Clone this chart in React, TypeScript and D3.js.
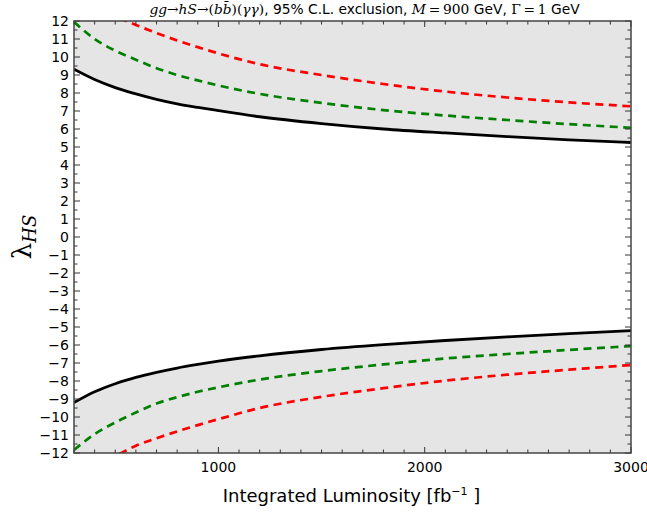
import React from "react";
import * as d3 from "d3";

// Luminosity samples (fb^-1)
const lum = [300, 400, 500, 600, 700, 800, 900, 1000, 1200, 1500, 1800, 2100, 2400, 2700, 3000];
// Upper branch
const blackUp = [9.32, 8.75, 8.3, 7.95, 7.65, 7.4, 7.2, 7.02, 6.68, 6.3, 6.0, 5.78, 5.58, 5.4, 5.25];
const greenUp = [11.95, 11.0, 10.35, 9.85, 9.38, 9.0, 8.7, 8.42, 7.95, 7.45, 7.05, 6.75, 6.5, 6.27, 6.07];
// Lower branch
const blackLo = [-9.2, -8.6, -8.15, -7.8, -7.52, -7.28, -7.08, -6.9, -6.6, -6.25, -5.98, -5.75, -5.55, -5.37, -5.2];
const greenLo = [-11.83, -10.95, -10.3, -9.75, -9.25, -8.9, -8.6, -8.35, -7.92, -7.45, -7.08, -6.75, -6.5, -6.27, -6.06];
// Red curves start where they enter the frame
const lumRed = [520, 600, 700, 800, 900, 1000, 1200, 1500, 1800, 2100, 2400, 2700, 3000];
const redUp = [12.15, 11.78, 11.33, 10.92, 10.55, 10.2, 9.6, 9.0, 8.5, 8.08, 7.75, 7.48, 7.26];
const redLo = [-12.05, -11.6, -11.18, -10.8, -10.45, -10.12, -9.5, -8.88, -8.4, -7.98, -7.65, -7.37, -7.11];

const yTicks = d3.range(-12, 13, 1);
const xTicks = [1000, 2000, 3000];

const W = 647, H = 512;
const L = 74, R = 631, T = 21, B = 453;

export default function App() {
  const x = d3.scaleLinear().domain([300, 3000]).range([L, R]);
  const y = d3.scaleLinear().domain([-12, 12]).range([B, T]);
  const line = (xs: number[], ys: number[]) =>
    d3.line<number>().x((_, i) => x(xs[i])).y((d) => y(d)).curve(d3.curveMonotoneX)(ys) || "";
  const areaTop = d3.area<number>().x((_, i) => x(lum[i])).y0(y(12)).y1((d) => y(d)).curve(d3.curveMonotoneX)(blackUp) || "";
  const areaBot = d3.area<number>().x((_, i) => x(lum[i])).y0(y(-12)).y1((d) => y(d)).curve(d3.curveMonotoneX)(blackLo) || "";
  const xMinor = d3.range(300, 3001, 100);
  const yMinor = d3.range(-12, 12.01, 0.5);
  const fmt = (v: number) => (v < 0 ? "\u2212" + Math.abs(v) : String(v));
  const sans = "'DejaVu Sans', sans-serif";
  const serif = "'DejaVu Serif', serif";
  return (
    <svg width={W} height={H} style={{ position: "absolute", left: 0, top: 0 }} fontFamily={sans}>
      <rect x={0} y={0} width={W} height={H} fill="#fff" />
      <defs>
        <clipPath id="plot">
          <rect x={L} y={T} width={R - L} height={B - T} />
        </clipPath>
      </defs>
      <g clipPath="url(#plot)">
        <path d={areaTop} fill="#e5e5e5" />
        <path d={areaBot} fill="#e5e5e5" />
        <path d={line(lumRed, redUp)} fill="none" stroke="#ff0000" strokeWidth={2.7} strokeDasharray="8 5.5" />
        <path d={line(lumRed, redLo)} fill="none" stroke="#ff0000" strokeWidth={2.7} strokeDasharray="8 5.5" />
        <path d={line(lum, greenUp)} fill="none" stroke="#008000" strokeWidth={2.7} strokeDasharray="8 5.5" />
        <path d={line(lum, greenLo)} fill="none" stroke="#008000" strokeWidth={2.7} strokeDasharray="8 5.5" />
        <path d={line(lum, blackUp)} fill="none" stroke="#000" strokeWidth={2.8} />
        <path d={line(lum, blackLo)} fill="none" stroke="#000" strokeWidth={2.8} />
      </g>
      {/* ticks */}
      <g stroke="#333" strokeWidth={1}>
        {xMinor.map((v) => {
          const major = xTicks.includes(v);
          const len = major ? 6 : 3.5;
          return (
            <g key={"xt" + v}>
              <line x1={x(v)} x2={x(v)} y1={B} y2={B - len} />
              <line x1={x(v)} x2={x(v)} y1={T} y2={T + len} />
            </g>
          );
        })}
        {yMinor.map((v) => {
          const major = Number.isInteger(v);
          const len = major ? 6 : 3.5;
          return (
            <g key={"yt" + v}>
              <line x1={L} x2={L + len} y1={y(v)} y2={y(v)} />
              <line x1={R} x2={R - len} y1={y(v)} y2={y(v)} />
            </g>
          );
        })}
      </g>
      <rect x={L} y={T} width={R - L} height={B - T} fill="none" stroke="#444" strokeWidth={1.5} />
      {/* y tick labels */}
      {yTicks.map((v) => (
        <text key={"yl" + v} x={L - 5} y={y(v)} dy="0.36em" textAnchor="end" fontSize={14} fill="#000">
          {fmt(v)}
        </text>
      ))}
      {xTicks.map((v) => (
        <text key={"xl" + v} x={x(v)} y={B + 19} textAnchor="middle" fontSize={14} fill="#000">
          {v}
        </text>
      ))}
      {/* x label */}
      <text x={(L + R) / 2 - 1} y={502} textAnchor="middle" fontSize={18} fill="#000">
        Integrated Luminosity [fb
        <tspan dy={-7} fontSize={11}>{"\u22121"}</tspan>
        <tspan dy={7}> ]</tspan>
      </text>
      {/* y label */}
      <text transform={`translate(31,${(T + B) / 2}) rotate(-90)`} textAnchor="middle" fill="#000">
        <tspan fontSize={26} fontFamily={serif}>λ</tspan>
        <tspan fontSize={18} fontStyle="italic" fontFamily={serif} dy={5}>HS</tspan>
      </text>
      {/* title */}
      <text x={(L + R) / 2 + 12} y={14} textAnchor="middle" fontSize={13.8} fill="#000">
        <tspan fontFamily={serif} fontStyle="italic">gg</tspan>
        <tspan fontFamily={serif}>{"\u2192"}</tspan>
        <tspan fontFamily={serif} fontStyle="italic">hS</tspan>
        <tspan fontFamily={serif}>{"\u2192("}</tspan>
        <tspan fontFamily={serif} fontStyle="italic">{"bb\u0304"}</tspan>
        <tspan fontFamily={serif}>)(</tspan>
        <tspan fontFamily={serif} fontStyle="italic">γγ</tspan>
        <tspan fontFamily={serif}>)</tspan>
        <tspan>, 95% C.L. exclusion, </tspan>
        <tspan fontFamily={serif} fontStyle="italic">M</tspan>
        <tspan fontFamily={serif}>{"\u2009=\u2009900"}</tspan>
        <tspan> GeV, </tspan>
        <tspan fontFamily={serif}>{"Γ\u2009=\u20091"}</tspan>
        <tspan> GeV</tspan>
      </text>
    </svg>
  );
}
